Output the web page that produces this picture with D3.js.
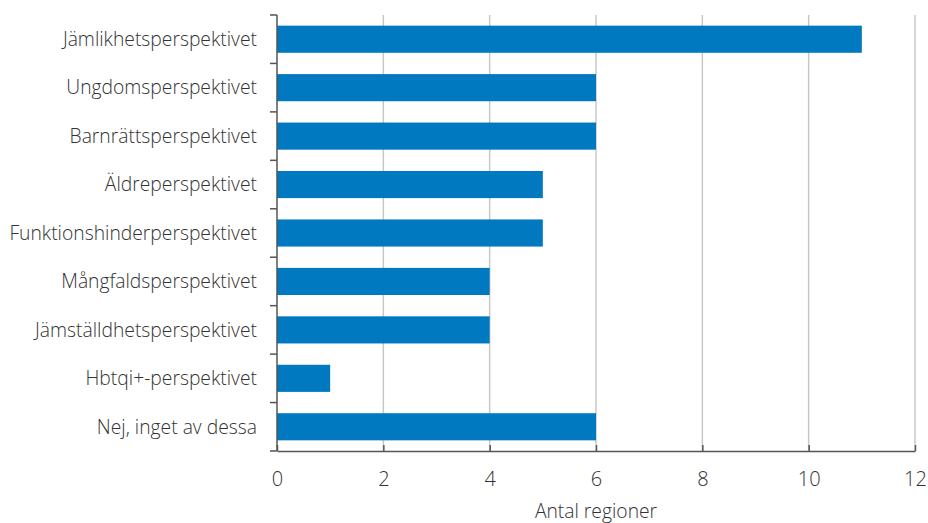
<!DOCTYPE html>
<html>
<head>
<meta charset="utf-8">
<script src="https://cdn.jsdelivr.net/npm/d3@7"></script>
<style>
  html, body { margin: 0; padding: 0; background: #fff; }
  svg { display: block; font-family: "Open Sans", sans-serif; }
</style>
</head>
<body>
<svg id="chart" width="928" height="523"></svg>
<script>
// Perspektiv som regionerna uppger
const categories = [
  "Jämlikhetsperspektivet",
  "Ungdomsperspektivet",
  "Barnrättsperspektivet",
  "Äldreperspektivet",
  "Funktionshinderperspektivet",
  "Mångfaldsperspektivet",
  "Jämställdhetsperspektivet",
  "Hbtqi+-perspektivet",
  "Nej, inget av dessa"
];
const values = [11, 6, 6, 5, 5, 4, 4, 1, 6];
const xTicks = [0, 2, 4, 6, 8, 10, 12];
const xTitle = "Antal regioner";

const svg = d3.select("#chart");
const plotLeft = 277, plotRight = 915, plotTop = 15, plotBottom = 451;
const fontSize = 19.3, tickFontSize = 20, textColor = "#333", fontWeight = 300;

const x = d3.scaleLinear().domain([0, 12]).range([plotLeft, plotRight]);
const y = d3.scaleBand().domain(categories).range([plotTop, plotBottom])
  .paddingInner(0.44).paddingOuter(0.22);

// vertical gridlines
svg.append("g").selectAll("line")
  .data(xTicks.filter(t => t > 0))
  .join("line")
  .attr("x1", d => x(d)).attr("x2", d => x(d))
  .attr("y1", plotTop).attr("y2", plotBottom)
  .attr("stroke", "#c8c8c8").attr("stroke-width", 1.5);

// bars
svg.append("g").selectAll("rect")
  .data(categories.map((c, i) => ({ c, v: values[i] })))
  .join("rect")
  .attr("x", x(0))
  .attr("y", d => y(d.c))
  .attr("width", d => x(d.v) - x(0))
  .attr("height", y.bandwidth())
  .attr("fill", "#0079c1");

// x axis
const xAxis = svg.append("g")
  .attr("transform", `translate(0,${plotBottom})`)
  .call(d3.axisBottom(x).tickValues(xTicks).tickSize(-6).tickSizeOuter(0).tickPadding(21));
xAxis.select(".domain").attr("stroke", "#555").attr("stroke-width", 1.5);
xAxis.selectAll(".tick line").attr("stroke", "#555").attr("stroke-width", 1.5);
xAxis.selectAll(".tick text")
  .attr("font-family", "Open Sans").attr("font-size", tickFontSize)
  .attr("font-weight", fontWeight).attr("fill", textColor);

// y axis: ticks at band boundaries
const boundaries = categories.map(c => y(c) - y.step() * y.paddingInner() / 2);
boundaries[0] = plotTop;
boundaries.push(plotBottom);
const yAxis = svg.append("g");
yAxis.append("line")
  .attr("x1", plotLeft).attr("x2", plotLeft).attr("y1", plotTop).attr("y2", plotBottom)
  .attr("stroke", "#555").attr("stroke-width", 1.5);
yAxis.selectAll("line.tk")
  .data(boundaries)
  .join("line").attr("class", "tk")
  .attr("x1", plotLeft - 7).attr("x2", plotLeft)
  .attr("y1", d => d).attr("y2", d => d)
  .attr("stroke", "#555").attr("stroke-width", 1.5);
yAxis.selectAll("text")
  .data(categories)
  .join("text")
  .attr("x", plotLeft - 20)
  .attr("y", d => y(d) + y.bandwidth() / 2)
  .attr("dy", "0.35em")
  .attr("text-anchor", "end")
  .attr("font-family", "Open Sans").attr("font-size", fontSize)
  .attr("font-weight", fontWeight).attr("fill", textColor)
  .text(d => d);

// axis title
svg.append("text")
  .attr("x", (plotLeft + plotRight) / 2)
  .attr("y", 518)
  .attr("text-anchor", "middle")
  .attr("font-family", "Open Sans").attr("font-size", fontSize)
  .attr("font-weight", fontWeight).attr("fill", textColor)
  .text(xTitle);
</script>
</body>
</html>
